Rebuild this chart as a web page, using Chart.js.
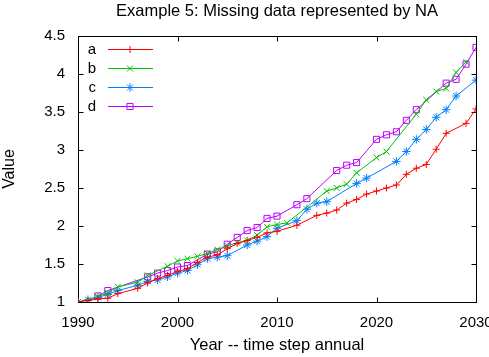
<!DOCTYPE html>
<html><head><meta charset="utf-8">
<script src="https://cdn.jsdelivr.net/npm/chart.js@4/dist/chart.umd.min.js"></script>
<style>html,body{margin:0;padding:0;background:#fff}#wrap{width:489px;height:357px}</style>
</head><body><div id="wrap"><canvas id="c" width="489" height="357"></canvas></div>
<script>
const titleText = 'Example 5: Missing data represented by NA';
const xTitle = 'Year -- time step annual';
const yTitle = 'Value';
const years = [1990,1991,1992,1993,1994,1995,1996,1997,1998,1999,2000,2001,2002,2003,2004,2005,2006,2007,2008,2009,2010,2011,2012,2013,2014,2015,2016,2017,2018,2019,2020,2021,2022,2023,2024,2025,2026,2027,2028,2029,2030];
const seriesNames = ['a','b','c','d'];
const seriesA = [1.00,1.02,1.04,1.05,1.11,null,1.18,1.25,1.31,1.35,1.40,1.44,1.52,1.59,1.62,1.70,1.77,1.81,1.85,1.91,1.93,null,2.01,null,2.14,2.17,2.21,2.30,2.35,2.42,2.46,2.50,2.54,2.68,2.76,2.81,3.01,3.22,null,3.35,3.54];
const seriesB = [1.00,null,1.07,1.12,1.20,null,1.26,1.35,null,1.47,1.54,1.57,1.60,1.64,1.69,1.74,1.78,1.81,1.88,1.99,2.02,2.04,null,null,null,2.46,2.50,2.55,2.70,null,2.90,2.98,null,null,3.47,3.66,3.77,3.81,4.02,4.16,null];
const seriesC = [1.00,1.03,1.06,1.10,1.15,null,1.22,1.27,1.29,1.33,1.38,1.415,1.49,1.57,1.59,1.61,null,1.75,1.80,1.86,1.97,null,2.07,2.22,2.30,2.32,null,null,2.56,2.63,null,null,2.85,2.98,3.14,3.27,3.43,3.53,3.71,null,3.92];
const seriesD = [null,null,1.08,1.15,null,null,null,1.33,1.38,1.415,1.46,1.48,null,1.63,1.66,1.76,1.85,1.94,1.98,2.10,2.13,null,2.28,2.36,null,null,2.73,2.80,2.835,null,3.14,3.20,3.24,3.39,3.53,null,null,3.88,3.93,4.13,4.35];
const xTicks = [1990,2000,2010,2020,2030];
const yTicks = [1,1.5,2,2.5,3,3.5,4,4.5];

const colors = ['#ff0000','#00c000','#0080ff','#c000ff'];
const styles = ['cross','crossRot','star','rect'];
const radii = [3.5,4.2,4.2,4.3];
const allSeries = [seriesA,seriesB,seriesC,seriesD];
const FONT = "'Liberation Sans', Arial, sans-serif";

Chart.defaults.font.family = FONT;
Chart.defaults.font.size = 15;
Chart.defaults.color = '#000';

const datasets = allSeries.map((s,i)=>({
  label: seriesNames[i],
  data: years.map((y,j)=>({x:y, y:s[j]})),
  borderColor: colors[i],
  backgroundColor: 'rgba(0,0,0,0)',
  borderWidth: 1,
  pointStyle: styles[i],
  pointRadius: radii[i],
  pointBorderWidth: 1,
  pointBorderColor: colors[i],
  pointBackgroundColor: 'rgba(0,0,0,0)',
  spanGaps: true,
  tension: 0,
  fill: false
}));

const frame = {
  id: 'frame',
  beforeDatasetsDraw(chart){
    const {ctx, chartArea:a, scales} = chart;
    const L = Math.round(a.left)+0.5, R = Math.round(a.right)+0.5, T = Math.round(a.top)+0.5, B = Math.round(a.bottom)+0.5;
    ctx.save();
    ctx.strokeStyle = '#000'; ctx.lineWidth = 1;
    ctx.strokeRect(L, T, R-L, B-T);
    const tl = 5;
    ctx.beginPath();
    xTicks.forEach(v=>{
      const px = Math.round(scales.x.getPixelForValue(v))+0.5;
      ctx.moveTo(px,B); ctx.lineTo(px,B-tl);
      ctx.moveTo(px,T); ctx.lineTo(px,T+tl);
    });
    yTicks.forEach(v=>{
      const py = Math.round(scales.y.getPixelForValue(v))+0.5;
      ctx.moveTo(L,py); ctx.lineTo(L+tl,py);
      ctx.moveTo(R,py); ctx.lineTo(R-tl,py);
    });
    ctx.stroke();
    // title centred over the plot area
    ctx.fillStyle = '#000';
    ctx.font = "16.5px " + FONT;
    ctx.textAlign = 'center'; ctx.textBaseline = 'middle';
    ctx.fillText(titleText, (a.left + a.right) / 2, 11);
    ctx.restore();
  },
  afterDatasetsDraw(chart){
    const {ctx, chartArea:a} = chart;
    ctx.save();
    ctx.font = "15px " + FONT;
    ctx.textAlign = 'right'; ctx.textBaseline = 'middle';
    seriesNames.forEach((n,i)=>{
      const y = Math.round(a.top + 13 + i*19)+0.5;
      ctx.fillStyle = '#000';
      ctx.fillText(n, a.left + 18, y);
      ctx.strokeStyle = colors[i]; ctx.lineWidth = 1;
      ctx.beginPath(); ctx.moveTo(a.left+30, y); ctx.lineTo(a.left+75, y); ctx.stroke();
      ctx.fillStyle = 'rgba(0,0,0,0)';
      ctx.strokeStyle = colors[i];
      Chart.helpers.drawPoint(ctx, {pointStyle: styles[i], radius: radii[i], borderWidth: 1, rotation: 0}, a.left+52, y);
    });
    ctx.restore();
  }
};

new Chart(document.getElementById('c'), {
  type: 'line',
  data: { datasets },
  plugins: [frame],
  options: {
    responsive: false,
    animation: false,
    devicePixelRatio: 1,
    layout: { padding: { left: 0, right: 13, top: 36, bottom: 0 } },
    plugins: {
      legend: { display: false },
      tooltip: { enabled: false },
      title: { display: false }
    },
    scales: {
      x: {
        type: 'linear', min: 1990, max: 2030,
        afterBuildTicks: s => { s.ticks = xTicks.map(v=>({value:v})); },
        afterFit: s => { s.height = 55; s.paddingLeft = 0; s.paddingRight = 0; },
        grid: { display: false, drawTicks: false },
        border: { display: false },
        ticks: { padding: 12, maxRotation: 0, autoSkip: false, callback: v => String(v) },
        title: { display: true, text: xTitle, font: { size: 16.5 }, padding: { top: 1, bottom: 2 } }
      },
      y: {
        type: 'linear', min: 1, max: 4.5,
        afterBuildTicks: s => { s.ticks = yTicks.map(v=>({value:v})); },
        afterFit: s => { s.width = 78; s.paddingTop = 0; s.paddingBottom = 0; },
        grid: { display: false, drawTicks: false },
        border: { display: false },
        ticks: { padding: 13, autoSkip: false, callback: v => String(v) },
        title: { display: true, text: yTitle, font: { size: 16 }, padding: { top: 0, bottom: 0 } }
      }
    }
  }
});
</script></body></html>
